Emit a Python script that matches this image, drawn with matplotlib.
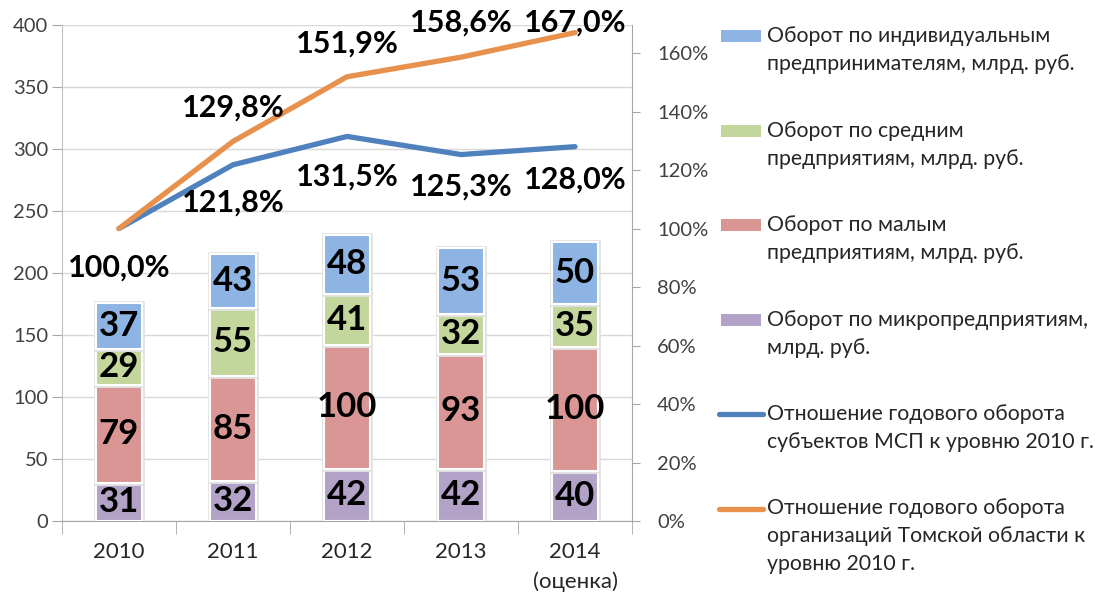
import matplotlib
matplotlib.use("Agg")
import matplotlib.pyplot as plt
import matplotlib.patheffects as pe
import numpy as np
from matplotlib.patches import Rectangle
from matplotlib.lines import Line2D

plt.rcParams['font.family'] = ['Lato', 'Open Sans', 'DejaVu Sans']

# ---- data ----
years = ["2010", "2011", "2012", "2013", "2014\n(оценка)"]
micro = [31, 32, 42, 42, 40]
small = [79, 85, 100, 93, 100]
medium = [29, 55, 41, 32, 35]
individual = [37, 43, 48, 53, 50]
ratio_msp = [100.0, 121.8, 131.5, 125.3, 128.0]
ratio_org = [100.0, 129.8, 151.9, 158.6, 167.0]

legend_labels = [
    "Оборот по индивидуальным\nпредпринимателям, млрд. руб.",
    "Оборот по средним\nпредприятиям, млрд. руб.",
    "Оборот по малым\nпредприятиям, млрд. руб.",
    "Оборот по микропредприятиям,\nмлрд. руб.",
    "Отношение годового оборота\nсубъектов МСП к уровню 2010 г.",
    "Отношение годового оборота\nорганизаций Томской области к\nуровню 2010 г.",
]

c_ind = "#8DB4E2"
c_med = "#C3D69B"
c_small = "#D99694"
c_micro = "#B3A2C7"
c_msp = "#4F81BD"
c_org = "#E8914D"

W, H = 1100, 596
fig = plt.figure(figsize=(W / 100, H / 100), dpi=100)
ax = fig.add_axes([62 / W, 1 - 521 / H, (632 - 62) / W, (521 - 25) / H])
ax2 = ax.twinx()

x = np.arange(len(years))
bw = 0.4
series = [(micro, c_micro), (small, c_small), (medium, c_med), (individual, c_ind)]
bottom = np.zeros(len(years))
for vals, col in series:
    vals = np.array(vals, dtype=float)
    bars = ax.bar(x, vals, bw, bottom=bottom, color=col, edgecolor="white",
                  linewidth=1.5, zorder=3)
    for b in bars:
        b.set_path_effects([pe.withStroke(linewidth=3.5, foreground="#E2E2E2")])
    for xi, b, v in zip(x, bottom, vals):
        ax.text(xi, b + v / 2, f"{int(v)}", ha="center", va="center",
                fontsize=25, fontweight="bold", color="black", zorder=5)
    bottom += vals

ax.set_xlim(-0.5, len(years) - 0.5)
ax.set_ylim(0, 400)
ax.set_yticks(np.arange(0, 401, 50))
ax.yaxis.grid(True, color="#D9D9D9", linewidth=1, zorder=0)
ax.set_axisbelow(True)
ax.set_xticks(x)
ax.set_xticklabels(years, fontsize=16, color="#262626", linespacing=1.55)
ax.set_xticks(np.arange(-0.5, len(years), 1), minor=True)
ax.tick_params(axis="x", which="major", length=0, pad=15)
ax.tick_params(axis="x", which="minor", length=9, color="#A6A6A6", direction="out")
ax.tick_params(axis="y", length=7, color="#A6A6A6", labelsize=14.5, labelcolor="#404040", pad=3)
for s in ["top", "right"]:
    ax.spines[s].set_visible(False)
ax.spines["left"].set_color("#BFBFBF")
ax.spines["bottom"].set_color("#A6A6A6")

# secondary axis
ax2.set_ylim(0, 169.6)
ax2.set_yticks(np.arange(0, 161, 20))
ax2.set_yticklabels([f"{t}%" for t in range(0, 161, 20)])
ax2.tick_params(axis="y", length=6, color="#A6A6A6", labelsize=14.5, labelcolor="#404040", pad=12)
for s in ["top", "left", "bottom"]:
    ax2.spines[s].set_visible(False)
ax2.spines["right"].set_color("#A6A6A6")

ax2.plot(x, ratio_msp, color=c_msp, linewidth=3.8, solid_capstyle="round", zorder=4)
ax2.plot(x, ratio_org, color=c_org, linewidth=3.8, solid_capstyle="round", zorder=4)

def fmt(v):
    return f"{v:.1f}".replace(".", ",") + "%"

msp_off = [None, -27, -29, -23, -24]
org_off = [-28, 24, 24, 25, 7]
for i, v in enumerate(ratio_msp):
    if msp_off[i] is None:
        continue
    ax2.annotate(fmt(v), (x[i], v), xytext=(0, msp_off[i]), textcoords="offset points",
                 ha="center", va="center", fontsize=22, fontweight="bold", color="black", zorder=6,
                 annotation_clip=False)
for i, v in enumerate(ratio_org):
    ax2.annotate(fmt(v), (x[i], v), xytext=(0, org_off[i]), textcoords="offset points",
                 ha="center", va="center", fontsize=22, fontweight="bold", color="black", zorder=6,
                 annotation_clip=False)

# legend (manual, Excel-style: marker aligned with first line)
handles = [("patch", c_ind), ("patch", c_med), ("patch", c_small), ("patch", c_micro),
           ("line", c_msp), ("line", c_org)]
y0 = 36
step = 94.5
for k, ((kind, col), lab) in enumerate(zip(handles, legend_labels)):
    yc = y0 + k * step
    if kind == "patch":
        fig.patches.append(Rectangle((721 / W, 1 - (yc + 6) / H), 40 / W, 12 / H,
                                     transform=fig.transFigure, facecolor=col, edgecolor="none"))
    else:
        fig.lines.append(Line2D([719 / W, 763 / W], [1 - yc / H, 1 - yc / H],
                                transform=fig.transFigure, color=col, linewidth=3.8,
                                solid_capstyle="round"))
    fig.text(767 / W, 1 - (yc - 10) / H, lab, ha="left", va="top", fontsize=15.3,
             color="#262626", linespacing=1.5)

fig.savefig("out.png", dpi=100)
